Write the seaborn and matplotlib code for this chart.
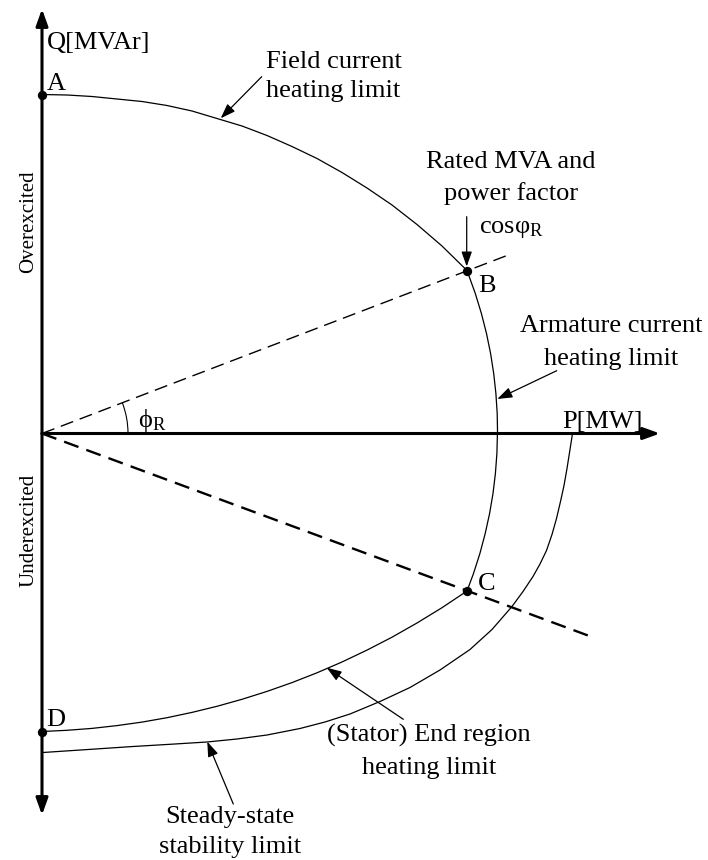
import matplotlib
matplotlib.use("Agg")
import matplotlib.pyplot as plt
import seaborn as sns
from matplotlib.patches import Arc

# ---------------- data (P [MW] to the right, Q [MVAr] up; diagram units) -------------
# field current heating limit (A -> B)
field_p = [0, 25, 50, 75, 100, 125, 150, 175, 200, 225, 250, 275, 300, 325, 350, 375, 400, 425]
field_q = [339, 338.5, 337, 334.5, 332, 328, 322.5, 315, 307.5, 298, 287, 275, 261, 245.5,
           228.5, 209, 187.5, 163]
# armature current heating limit (B -> C)
arm_p = [425, 433.3, 439.4, 444.5, 448.6, 451.7, 453.9, 455.2, 455.5, 454.9, 453.4, 451.0,
         447.6, 443.2, 437.9, 431.5, 425]
arm_q = [163, 140, 120, 100, 80, 60, 40, 20, 3, -20, -40, -60, -80, -100, -120, -140, -157.5]
# (stator) end region heating limit (C -> D)
end_p = [425, 400, 375, 350, 325, 300, 275, 250, 225, 200, 175, 150, 125, 100, 75, 50, 25, 0]
end_q = [-157.5, -174.2, -189.5, -203.7, -216.6, -228.5, -239.3, -249.1, -257.9, -265.8,
         -272.8, -278.9, -284.2, -288.6, -292.1, -294.9, -296.8, -298]
# steady-state stability limit
ss_p = [530.5, 528, 525, 522, 518.5, 514.5, 510, 504.5, 498, 491, 481, 470, 450, 428, 398,
        368, 338, 308, 283, 258, 225, 195, 165, 128, 91, 46, 1]
ss_q = [0, -16, -35, -52, -68, -85, -101, -117, -130.5, -143, -158, -173, -196, -216, -236.5,
        -254, -268, -280.5, -288.5, -295, -301.5, -305.5, -308.5, -310.8, -313, -316, -319]
# rated power-factor lines (lagging / leading)
pf_over_p = [0, 465]
pf_over_q = [0, 178]
pf_under_p = [0, 546]
pf_under_q = [0, -202]
# labelled points A, B, C, D
pt_names = ["A", "B", "C", "D"]
pt_p = [0, 425, 425, 0]
pt_q = [339, 163, -157.5, -298]
# axis extents
q_top, q_bottom, p_right = 424.5, -381.5, 618

sns.set_style("white")
plt.rcParams["font.family"] = ["Liberation Serif", "DejaVu Serif"]
plt.rcParams["mathtext.fontset"] = "custom"
plt.rcParams["mathtext.rm"] = "Liberation Serif"
plt.rcParams["mathtext.it"] = "Liberation Serif:italic"
plt.rcParams["lines.scale_dashes"] = False

fig = plt.figure(figsize=(7.08, 8.6), dpi=100)
ax = fig.add_axes([0, 0, 1, 1])
ax.set_xlim(-42, 666)
ax.set_ylim(-426.5, 433.5)
ax.axis("off")

FS = 19
K = "black"

# axes with arrows
ax_arrow = dict(arrowstyle="-|>,head_length=1.0,head_width=0.36", lw=2.2, color=K,
                mutation_scale=10, shrinkA=0, shrinkB=0)
ax.annotate("", xy=(0, q_top), xytext=(0, 0), arrowprops=ax_arrow)
ax.annotate("", xy=(0, q_bottom), xytext=(0, 0), arrowprops=ax_arrow)
ax.annotate("", xy=(p_right, 0), xytext=(0, 0), arrowprops=ax_arrow)

# curves
for xs, ys in [(field_p, field_q), (arm_p, arm_q), (end_p, end_q), (ss_p, ss_q)]:
    sns.lineplot(x=xs, y=ys, sort=False, estimator=None, color=K, lw=0.9, ax=ax)
    ax.lines[-1].set_solid_joinstyle("round")

# power factor lines
sns.lineplot(x=pf_over_p, y=pf_over_q, sort=False, estimator=None, color=K, lw=1.0, ax=ax)
ax.lines[-1].set_dashes((9.5, 5))
sns.lineplot(x=pf_under_p, y=pf_under_q, sort=False, estimator=None, color=K, lw=1.7, ax=ax)
ax.lines[-1].set_dashes((11, 6))

# points
sns.scatterplot(x=pt_p, y=pt_q, s=45, color=K, edgecolor=K, linewidth=0, ax=ax, zorder=5)

# angle arc
ax.add_patch(Arc((0, 0), 172, 172, theta1=0, theta2=21, color=K, lw=0.8))

# label arrows
lab_arrow = dict(arrowstyle="-|>,head_length=0.9,head_width=0.32", lw=0.9, color=K,
                 mutation_scale=10, shrinkA=0, shrinkB=0)
ax.annotate("", xy=(178.7, 315.2), xytext=(219.7, 356.8), arrowprops=lab_arrow)
ax.annotate("", xy=(424.7, 167), xytext=(424.7, 216.8), arrowprops=lab_arrow)
ax.annotate("", xy=(455.3, 34.5), xytext=(514.7, 62.8), arrowprops=lab_arrow)
ax.annotate("", xy=(284.7, -234.2), xytext=(361.3, -285.8), arrowprops=lab_arrow)
ax.annotate("", xy=(165.3, -308.2), xytext=(191.3, -370.5), arrowprops=lab_arrow)

def t(x, y, s, ha="center", **kw):
    ax.text(x, y, s, ha=ha, va="baseline", fontsize=kw.pop("fs", FS), color=K, **kw)

t(4.7, 384.5, "Q[MVAr]", ha="left")
t(520.7, 5.5, "P[MW]", ha="left")
# point labels
t(4.7, 343.5, pt_names[0], ha="left")
t(436, 141.8, pt_names[1], ha="left")
t(436, -156.5, pt_names[2], ha="left")
t(4.7, -292.5, pt_names[3], ha="left")

t(291.5, 366, "Field current")
t(291.5, 336.5, "heating limit")
t(468.5, 265.2, "Rated MVA and")
t(469, 233.5, "power factor")
t(437.3, 200.2, r"cos$\mathrm{\varphi_{R}}$", ha="left")
t(569.5, 101.8, "Armature current")
t(569.5, 68.5, "heating limit")
t(96, 6.8, r"$\mathrm{\phi_{R}}$", ha="left")
t(387, -308.2, "(Stator) End region")
t(387, -340.5, "heating limit")
t(188, -389.8, "Steady-state")
t(188, -419.8, "stability limit")

ax.text(-8.7, 211.5, "Overexcited", rotation=90, rotation_mode="anchor",
        ha="center", va="baseline", fontsize=15, color=K)
ax.text(-8.7, -96.5, "Underexcited", rotation=90, rotation_mode="anchor",
        ha="center", va="baseline", fontsize=15, color=K)

fig.savefig("out.png", dpi=100)
